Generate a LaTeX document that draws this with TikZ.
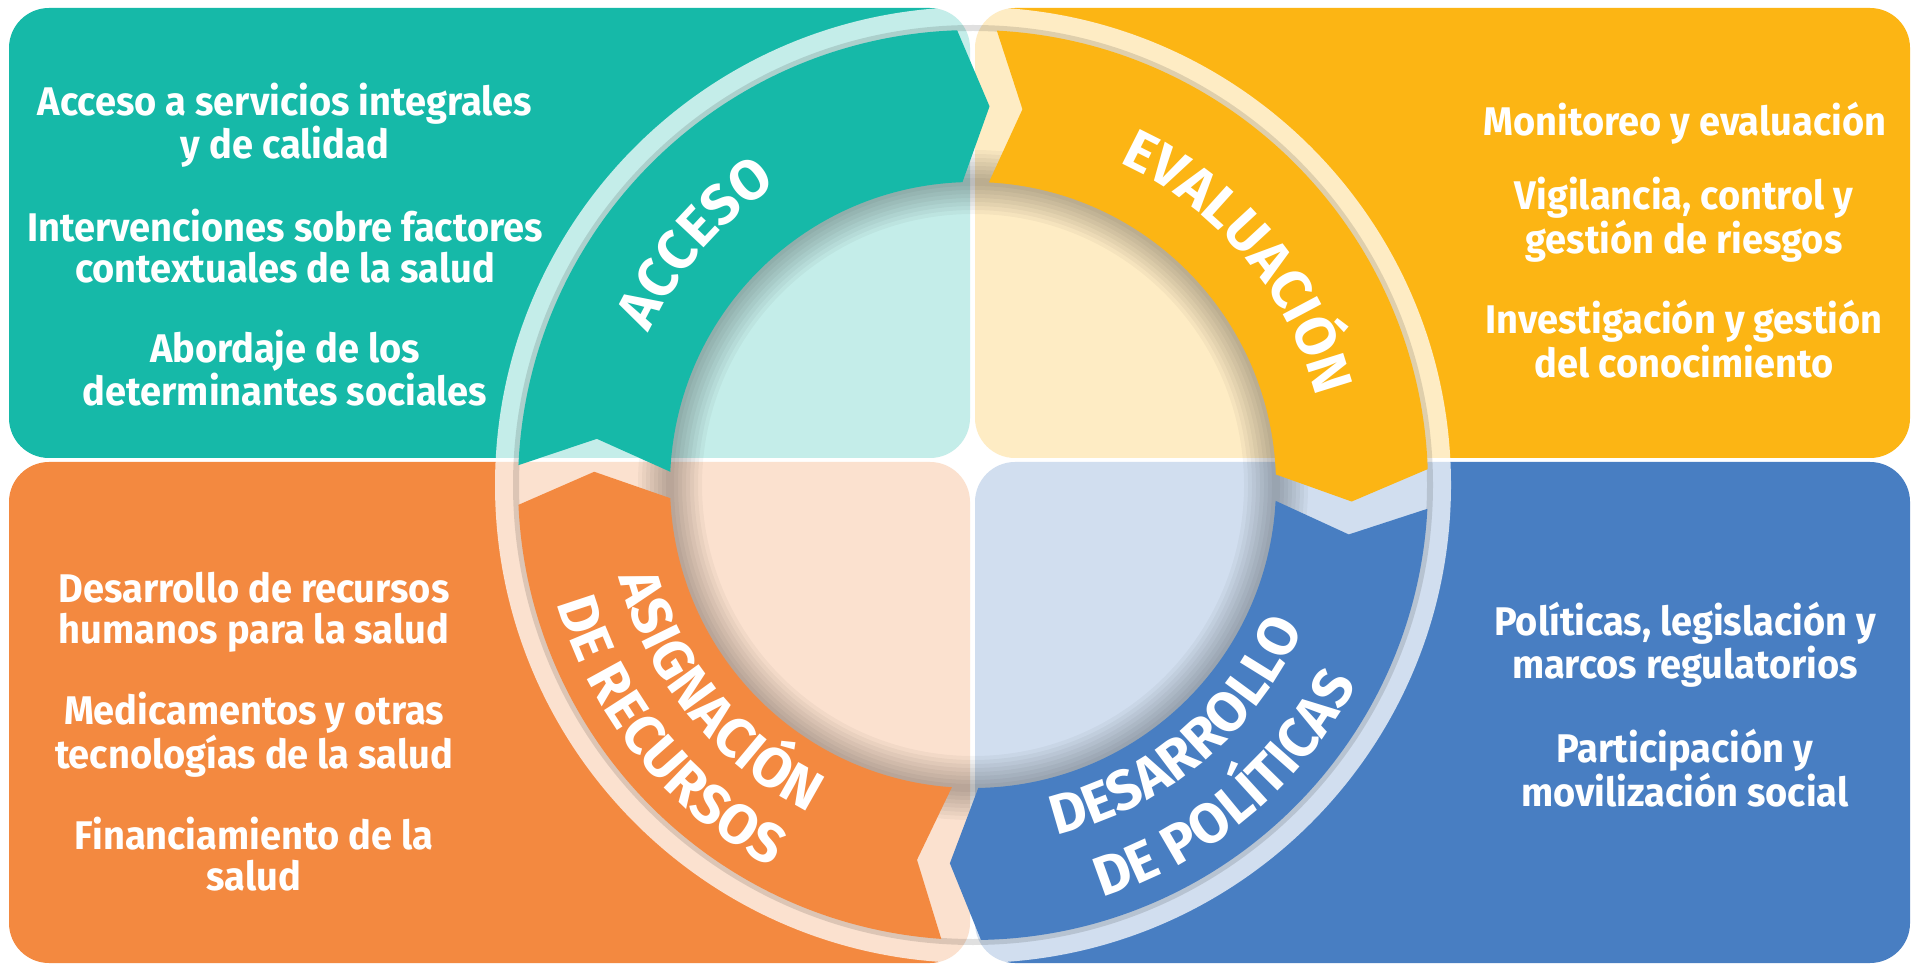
\documentclass[tikz,border=0pt]{standalone}
\usepackage{fontspec}
\setmainfont{Fira Sans}[FakeStretch=0.95]
\newfontfamily\bandfont{Fira Sans}
\usetikzlibrary{decorations.text}
\definecolor{tealbox}{HTML}{16B9A8}
\definecolor{sunbox}{HTML}{FCB514}
\definecolor{orangebox}{HTML}{F38940}
\definecolor{bluebox}{HTML}{487EC2}
\newcommand\ringout{455}
\newcommand\ringin{303}
\newcommand\ringmid{379}
% one curved arrow of the cycle: tail angle, head angle, colour
\newcommand\ribbon[3]{%
	\fill [#3] (#1:\ringout) arc [start angle=#1, end angle=#2, radius=\ringout]
		-- ({#2-4.5}:\ringmid) -- (#2:\ringin)
		arc [start angle=#2, end angle=#1, radius=\ringin]
		-- ({#1-4.5}:\ringmid) -- cycle;}
% text along an arc: start angle, end angle, radius, text
\newcommand\arclabel[4]{%
	\path [decorate, decoration = {text along path, text align = center, text color = white,
		text = {|\bandfont\bfseries\fontsize{28}{28}\selectfont|#4}}]
		(#1:#3) arc [start angle=#1, end angle=#2, radius=#3];}
\tikzset{
	quad/.style = {
		rounded corners = 20pt
	},
	item/.style = {
		text = white,
		align = center,
		inner sep = 0pt,
		font = \bfseries\fontsize{20}{20.5}\selectfont
	}
}

\begin{document}
\begin{tikzpicture}[x=0.5pt, y=0.5pt]
    \useasboundingbox (0,0) rectangle (1921,970);
    \fill [white] (0,0) rectangle (1921,970);

    \fill [quad, tealbox] (9,512) rectangle (970,962);
    \fill [quad, sunbox] (975,512) rectangle (1910,962);
    \fill [quad, orangebox] (9,7) rectangle (970,508);
    \fill [quad, bluebox] (975,7) rectangle (1910,508);

    \begin{scope}[shift={(973,485)}]
        \fill [white, opacity=0.75] (0,0) circle [radius=478];
        \foreach \k in {1,...,8}
            \draw [black, opacity=0.035, line width=4pt*\k] (0,0) circle [radius=\ringin];
        \draw [black, opacity=0.12, line width=3pt] (0,0) circle [radius=457];

        \ribbon{177.5}{92}{tealbox}
        \ribbon{87}{2}{sunbox}
        \ribbon{-3}{-89}{bluebox}
        \ribbon{266}{182.5}{orangebox}

        \arclabel{179}{99}{358}{ACCESO}
        \arclabel{82}{-2}{354}{EVALUACIÓN}
        \arclabel{-95}{-5}{360}{DESARROLLO}
        \arclabel{-95}{-5}{432}{DE POLÍTICAS}
        \arclabel{174}{264}{366}{ASIGNACIÓN}
        \arclabel{174}{264}{432}{DE RECURSOS}
    \end{scope}

    \node [item] (acc1) at (285,845) {Acceso a servicios integrales\\y de calidad};
    \node [item] (acc2) at (285,724) {Intervenciones sobre factores\\contextuales de la salud};
    \node [item] (acc3) at (285,602) {Abordaje de los\\determinantes sociales};

    \node [item] (eva1) at (1685,847) {Monitoreo y evaluación};
    \node [item] (eva2) at (1684,750) {Vigilancia, control y\\gestión de riesgos};
    \node [item] (eva3) at (1684,631) {Investigación y gestión\\del conocimiento};

    \node [item] (asi1) at (254,358) {Desarrollo de recursos\\humanos para la salud};
    \node [item] (asi2) at (254,235) {Medicamentos y otras\\tecnologías de la salud};
    \node [item] (asi3) at (254,116) {Financiamiento de la\\salud};

    \node [item] (pol1) at (1685,325) {Políticas, legislación y\\marcos regulatorios};
    \node [item] (pol2) at (1685,202) {Participación y\\movilización social};
\end{tikzpicture}
\end{document}
